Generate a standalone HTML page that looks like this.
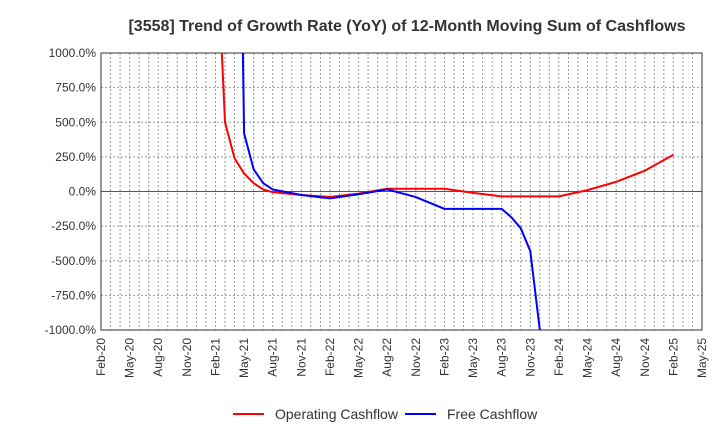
<!DOCTYPE html>
<html><head><meta charset="utf-8"><style>
body{margin:0;background:#fff;font-family:"Liberation Sans",Arial,sans-serif}
svg{display:block}
</style></head><body>
<svg id="c" width="720" height="440" xmlns="http://www.w3.org/2000/svg">
<text x="407" y="31" text-anchor="middle" font-size="16" font-weight="bold" fill="#333">[3558]  Trend of Growth Rate (YoY) of 12-Month Moving Sum of Cashflows</text>
<g id="grid"></g><g id="axes"></g><g id="series"></g>
<g>
<line x1="233" y1="414" x2="264" y2="414" stroke="#f00" stroke-width="2"/>
<text x="275" y="419" font-size="14" fill="#333">Operating Cashflow</text>
<line x1="405" y1="414" x2="436" y2="414" stroke="#00f" stroke-width="2"/>
<text x="447" y="419" font-size="14" fill="#333">Free Cashflow</text>
</g>
</svg>
<script>
const xLabels=["Feb-20","May-20","Aug-20","Nov-20","Feb-21","May-21","Aug-21","Nov-21","Feb-22","May-22","Aug-22","Nov-22","Feb-23","May-23","Aug-23","Nov-23","Feb-24","May-24","Aug-24","Nov-24","Feb-25","May-25"];
const yTicks=[1000,750,500,250,0,-250,-500,-750,-1000];
// month index from Feb-20
const opMonths=[12,13,14,15,16,17,18,21,24,27,30,33,36,39,42,45,48,51,54,57,60];
const opValues=[2000,500,240,130,60,15,-5,-25,-40,-15,20,20,20,-10,-35,-35,-35,10,70,150,265];
const fcfMonths=[14,15,16,17,18,21,24,27,30,33,36,39,42,43,44,45,46];
const fcfValues=[5000,420,160,60,15,-25,-50,-20,15,-40,-125,-125,-125,-185,-265,-430,-1000];
const L=101,R=702,T=53,B=330,NM=63;
const xs=m=>L+(R-L)*m/NM;
const ys=v=>B-(B-T)*(v+1000)/2000;
const NS="http://www.w3.org/2000/svg";
function mk(t,a,p){const e=document.createElementNS(NS,t);for(const k in a)e.setAttribute(k,a[k]);p.appendChild(e);return e;}
const grid=document.getElementById('grid'),axes=document.getElementById('axes'),ser=document.getElementById('series');
for(let m=1;m<NM;m++){const l=mk('line',{x1:xs(m),x2:xs(m),y1:T,y2:B,stroke:'#999','stroke-dasharray':'2,2','stroke-width':1},grid);

}
yTicks.forEach(v=>{const y=ys(v);
if(v!==1000&&v!==-1000){const g=mk('line',{x1:L,x2:R,y1:y,y2:y,stroke:v===0?'#555':'#999','stroke-dasharray':v===0?'':'2,2','stroke-width':1},grid);

}
const t=mk('text',{x:L-5,y:y+4,'text-anchor':'end','font-size':12,fill:'#333'},axes);t.textContent=v.toFixed(1)+'%';

});
xLabels.forEach((s,i)=>{const x=xs(i*3);const t=mk('text',{transform:`translate(${x+4},${B+8}) rotate(-90)`,'text-anchor':'end','font-size':12,fill:'#333'},axes);t.textContent=s;

});
const fr=mk('rect',{x:L,y:T,width:R-L,height:B-T,fill:'none',stroke:'#333','stroke-width':1},axes);


mk('clipPath',{id:'cp'},ser).appendChild(Object.assign(document.createElementNS(NS,'rect'),{})).setAttribute('x',L);
const cr=document.querySelector('#cp rect');cr.setAttribute('y',T);cr.setAttribute('width',R-L);cr.setAttribute('height',B-T);
function line(ms,vs,c,name){const p=mk('polyline',{points:ms.map((m,i)=>xs(m)+','+ys(vs[i])).join(' '),fill:'none',stroke:c,'stroke-width':2,'clip-path':'url(#cp)'},ser);

}
line(opMonths,opValues,'#f00','operating-cashflow-line');
line(fcfMonths,fcfValues,'#00f','free-cashflow-line');
</script>
</body></html>
